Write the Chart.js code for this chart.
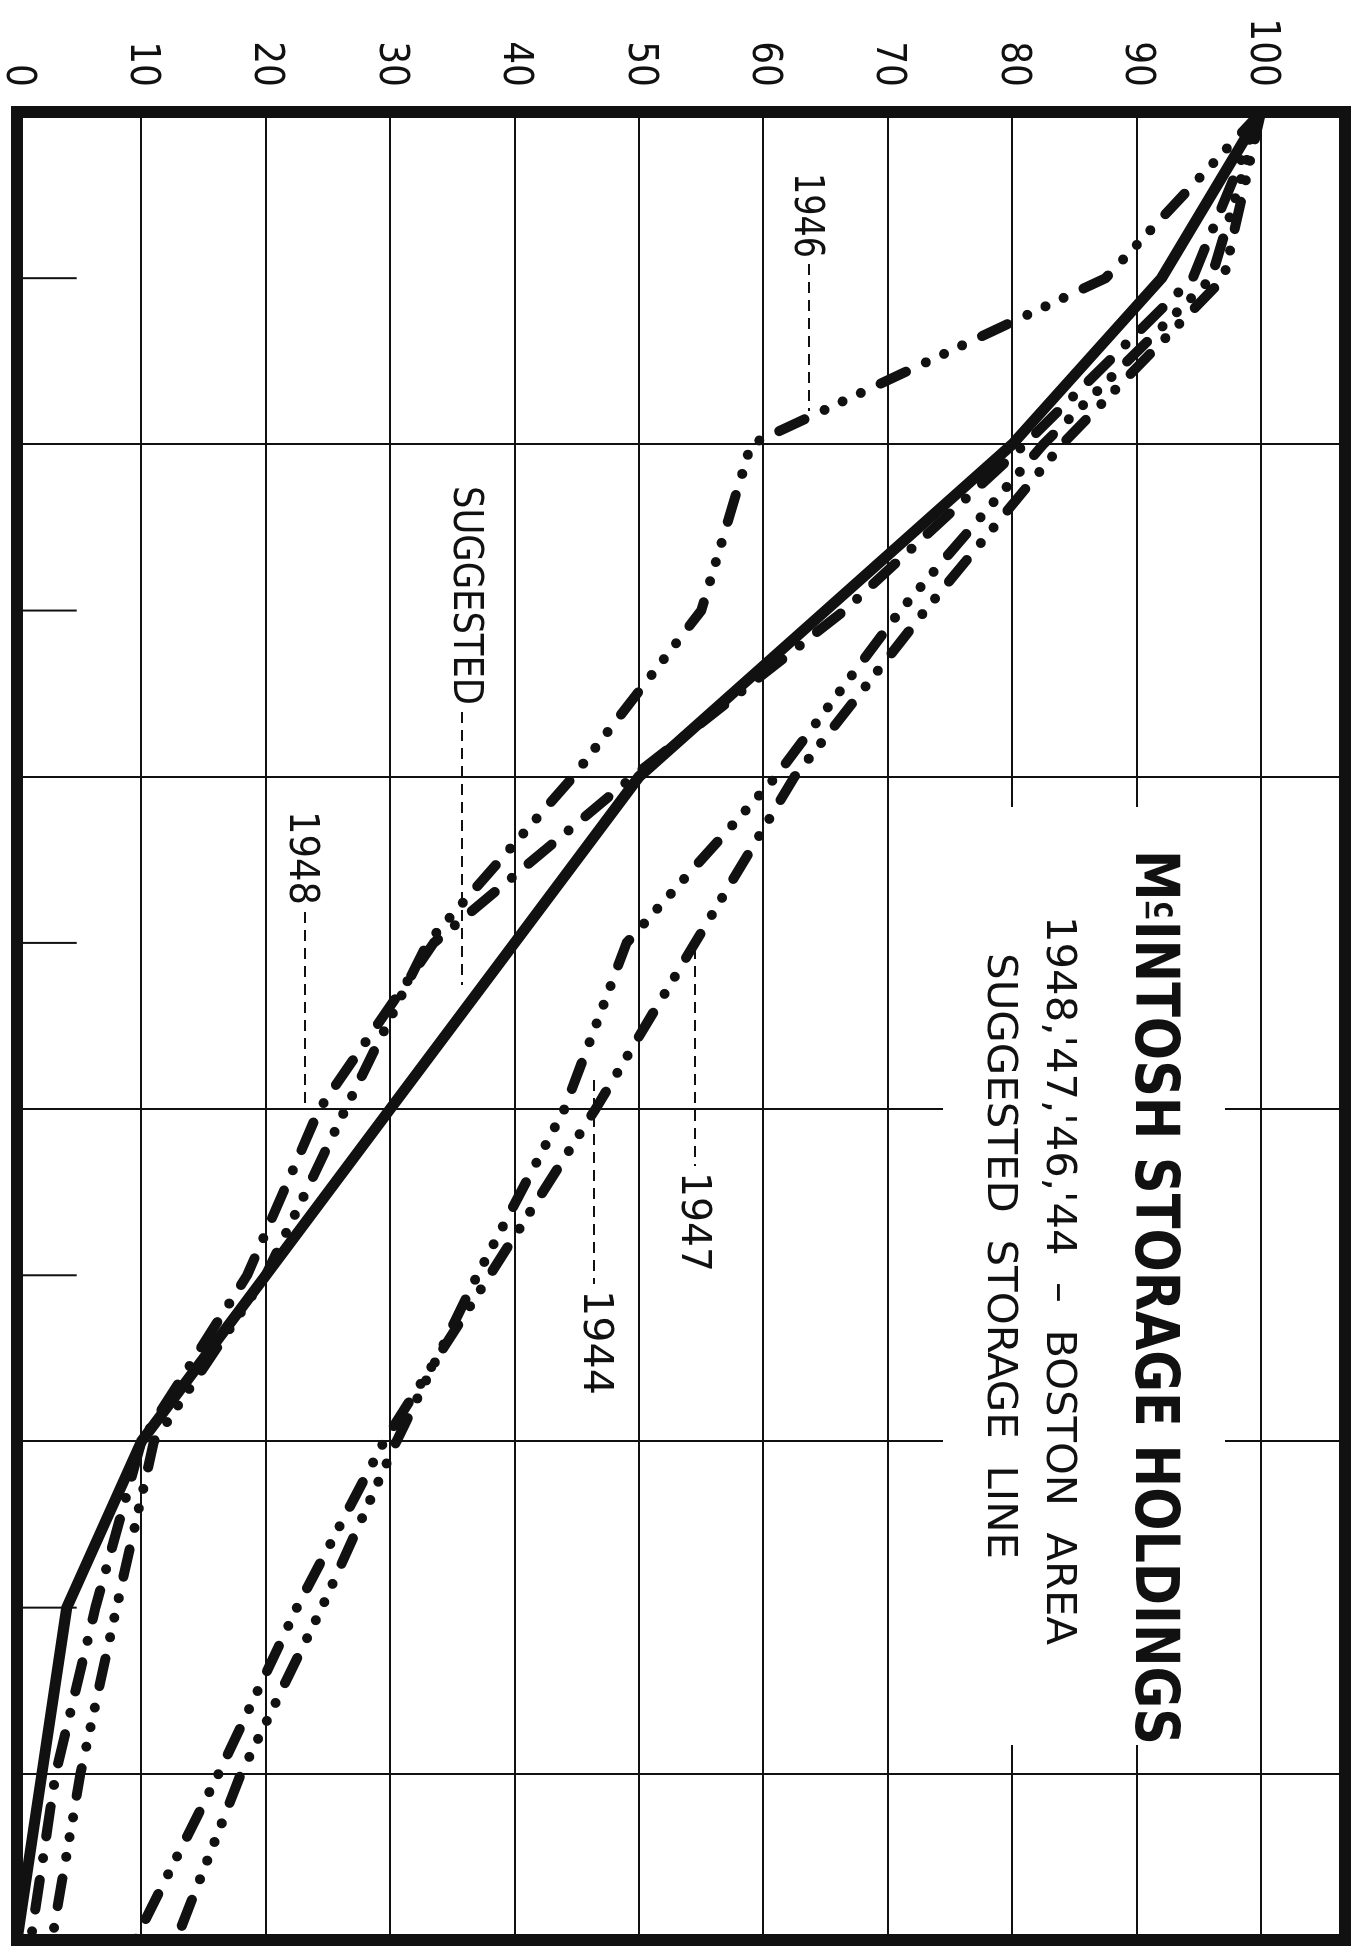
<!DOCTYPE html>
<html>
<head>
<meta charset="utf-8">
<script src="https://cdn.jsdelivr.net/npm/chart.js@4.4.1/dist/chart.umd.min.js"></script>
<style>
  html, body { margin: 0; padding: 0; background: #fff; }
  #wrap { position: relative; width: 1358px; height: 1955px; overflow: hidden; background: #fff; }
  /* the chart is drawn lying on its side, like the original sheet */
  #holdings { position: absolute; left: 0; top: 0; transform-origin: 0 0; transform: translateX(1358px) rotate(90deg); }
</style>
</head>
<body>
<div id="wrap"><canvas id="holdings" width="1955" height="1358"></canvas></div>
<script>
// Periodes (pas de libelles sur l'original)
const categories = ['0', '1', '2', '3', '4', '5', '6', '7', '8', '9', '10', '11'];

// Stock en % du stock initial
const suggested = [100, 92, 80, 65, 50, 40, 30, 20, 10, 4, 2, 0];
const y1948 = [100, 94.5, 81, 66.5, 49.5, 33.5, 24.3, 18.5, 10, 6.3, 3.1, 1.1];
const y1947 = [100, 97, 84, 73, 62.5, 54.5, 46.5, 38, 29.5, 22.5, 16.2, 9.5];
const y1946 = [100, 87.5, 59, 55, 44.7, 33, 26.4, 20, 11, 8, 5.1, 2.8];
const y1944 = [100, 96, 82.5, 71, 61, 49, 44, 37, 30.5, 24.5, 18, 12.8];

const valueTicks = [0, 10, 20, 30, 40, 50, 60, 70, 80, 90, 100];

const INK = '#111';
const FONT = '"Liberation Sans Narrow", "DejaVu Sans Condensed", "Liberation Sans", sans-serif';

/**
 * Ecrit un texte en l'etirant pour qu'il couvre [u0, u1].
 */
function fitText(ctx, text, u0, u1, vBase, cap, weight) {
    const size = cap / 0.72;
    ctx.font = `${weight || 'normal'} ${size}px ${FONT}`;
    const w = ctx.measureText(text).width;
    ctx.save();
    ctx.translate(u0, vBase);
    ctx.scale((u1 - u0) / w, 1);
    ctx.textAlign = 'left';
    ctx.textBaseline = 'alphabetic';
    ctx.fillStyle = INK;
    ctx.fillText(text, 0, 0);
    ctx.restore();
}

/**
 * Titre avec le petit "c" sureleve et souligne de "Mc".
 */
function drawTitle(ctx, u0, u1, vBase, cap) {
    const size = cap / 0.72;
    const big = `bold ${size}px ${FONT}`;
    const small = `bold ${size * 0.55}px ${FONT}`;
    ctx.font = big;
    const wM = ctx.measureText('M').width;
    const wRest = ctx.measureText('INTOSH STORAGE HOLDINGS').width;
    ctx.font = small;
    const wc = ctx.measureText('c').width + size * 0.06;
    const k = (u1 - u0) / (wM + wc + wRest);
    ctx.save();
    ctx.translate(u0, vBase);
    ctx.scale(k, 1);
    ctx.fillStyle = INK;
    ctx.textAlign = 'left';
    ctx.textBaseline = 'alphabetic';
    ctx.font = big;
    ctx.fillText('M', 0, 0);
    ctx.font = small;
    ctx.fillText('c', wM + size * 0.02, -cap * 0.42);
    ctx.fillRect(wM + size * 0.02, -cap * 0.3, wc - size * 0.06, cap * 0.08);
    ctx.font = big;
    ctx.fillText('INTOSH STORAGE HOLDINGS', wM + wc, 0);
    ctx.restore();
}

function leader(ctx, u0, u1, v) {
    ctx.save();
    ctx.strokeStyle = INK;
    ctx.lineWidth = 2;
    ctx.setLineDash([11, 7]);
    ctx.beginPath();
    ctx.moveTo(u0, v);
    ctx.lineTo(u1, v);
    ctx.stroke();
    ctx.restore();
}

const decor = {
    id: 'decor',
    beforeDatasetsDraw(chart) {
        const { ctx } = chart;
        const x = chart.scales.x, y = chart.scales.y;
        ctx.save();
        // zone du titre : la grille y est interrompue
        ctx.fillStyle = '#fff';
        ctx.fillRect(807, 133, 1745 - 807, 415 - 133);
        // petites marques aux periodes impaires
        ctx.strokeStyle = INK;
        ctx.lineWidth = 2;
        categories.forEach((c, i) => {
            if (i % 2 === 1) {
                const px = x.getPixelForValue(i);
                ctx.beginPath();
                ctx.moveTo(px, y.getPixelForValue(0));
                ctx.lineTo(px, y.getPixelForValue(4.8));
                ctx.stroke();
            }
        });
        ctx.restore();
    },
    afterDatasetsDraw(chart) {
        const { ctx, chartArea: a } = chart;
        ctx.save();
        ctx.strokeStyle = INK;
        ctx.lineWidth = 12;
        ctx.strokeRect(a.left, a.top, a.right - a.left, a.bottom - a.top);
        ctx.restore();

        // titre
        drawTitle(ctx, 850, 1745, 222, 44);
        fitText(ctx, "1948,'47,'46,'44  \u2013  BOSTON  AREA", 916, 1645, 311, 30, 'normal');
        fitText(ctx, 'SUGGESTED  STORAGE  LINE', 953, 1559, 370, 29, 'normal');

        // etiquettes des courbes
        fitText(ctx, '1946', 173, 258, 563, 30);
        leader(ctx, 264, 411, 549);
        fitText(ctx, 'SUGGESTED', 486, 705, 904, 30);
        leader(ctx, 712, 985, 896);
        fitText(ctx, '1948', 811, 905, 1068, 30);
        leader(ctx, 912, 1108, 1053);
        fitText(ctx, '1947', 1172, 1272, 676, 30);
        leader(ctx, 948, 1166, 663);
        fitText(ctx, '1944', 1290, 1395, 774, 30);
        leader(ctx, 1080, 1284, 764);
    }
};

function serie(label, data, dash, width) {
    return {
        label,
        data,
        borderColor: INK,
        backgroundColor: INK,
        borderWidth: width,
        borderDash: dash,
        borderCapStyle: 'round',
        borderJoinStyle: 'round',
        pointRadius: 0,
        tension: 0,
        fill: false
    };
}

new Chart(document.getElementById('holdings').getContext('2d'), {
    type: 'line',
    data: {
        labels: categories,
        datasets: [
            serie('1946', y1946, [28, 22, 0, 20, 0, 20, 0, 22], 10),
            serie('1944', y1944, [28, 22, 0, 20, 0, 20, 0, 20, 0, 22], 10),
            serie('1947', y1947, [28, 22, 0, 20, 0, 22], 10),
            serie('1948', y1948, [30, 22, 0, 22], 10),
            serie('Suggested', suggested, [], 11)
        ]
    },
    options: {
        responsive: false,
        animation: false,
        devicePixelRatio: 1,
        layout: { padding: { left: 12, right: 15, top: 13, bottom: 17 } },
        plugins: {
            legend: { display: false },
            tooltip: { enabled: false }
        },
        scales: {
            x: {
                type: 'category',
                offset: false,
                ticks: { display: false },
                border: { display: false },
                grid: {
                    lineWidth: 2,
                    drawTicks: false,
                    color: (c) => (c.index % 2 === 0 && c.index > 0 && c.index < categories.length - 1) ? INK : 'rgba(0,0,0,0)'
                },
                afterFit: (s) => { s.height = 0; s.paddingLeft = 0; s.paddingRight = 0; }
            },
            y: {
                min: 0,
                max: 106.75,
                afterBuildTicks: (s) => { s.ticks = valueTicks.map(v => ({ value: v })); },
                ticks: {
                    color: INK,
                    padding: 25,
                    font: { family: FONT, size: 40 }
                },
                border: { display: false },
                grid: { color: INK, lineWidth: 2, drawTicks: false },
                afterFit: (s) => { s.width = 100; s.paddingTop = 0; s.paddingBottom = 0; }
            }
        }
    },
    plugins: [decor]
});
</script>
</body>
</html>
